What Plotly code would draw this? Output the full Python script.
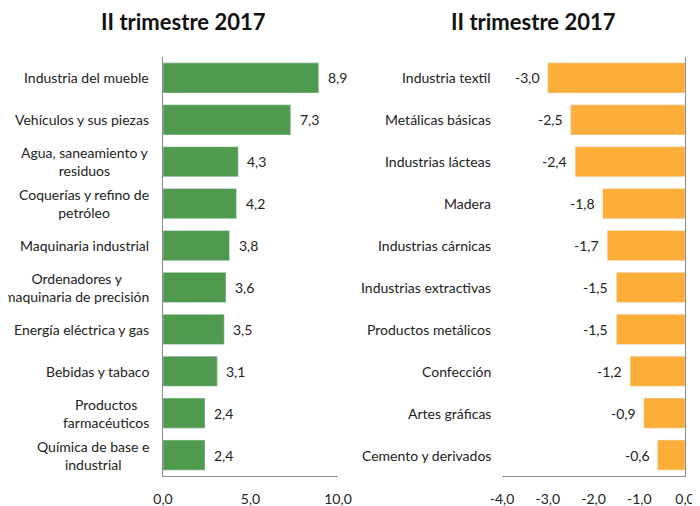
import plotly.graph_objects as go

# left panel: positive rates
cats_pos = ["Industria del mueble", "Vehículos y sus piezas", "Agua, saneamiento y<br>residuos",
            "Coquerías y refino de<br>petróleo", "Maquinaria industrial",
            "Ordenadores y<br>maquinaria de precisión", "Energía eléctrica y gas",
            "Bebidas y tabaco", "Productos<br>farmacéuticos", "Química de base e<br>industrial"]
vals_pos = [8.9, 7.3, 4.3, 4.2, 3.8, 3.6, 3.5, 3.1, 2.4, 2.4]

# right panel: negative rates
cats_neg = ["Industria textil", "Metálicas básicas", "Industrias lácteas", "Madera",
            "Industrias cárnicas", "Industrias extractivas", "Productos metálicos",
            "Confección", "Artes gráficas", "Cemento y derivados"]
vals_neg = [-3.0, -2.5, -2.4, -1.8, -1.7, -1.5, -1.5, -1.2, -0.9, -0.6]

ticks_pos = [0, 5, 10]
ticks_neg = [-4, -3, -2, -1, 0]
title_txt = "II trimestre 2017"

GREEN = "#4F9A4E"
ORANGE = "#FDAE38"
AXIS = "#8C8C8C"
FONT = "Lato"
W, H = 700, 506
OFF = 8  # page body margin shifts the plot by this much


def fmt(v):
    return f"{v:.1f}".replace(".", ",")


def px(x):
    return (x - OFF) / W


def py(y):
    return 1 - (y - OFF) / H


fig = go.Figure()
fig.add_trace(go.Bar(y=cats_pos, x=vals_pos, orientation="h", marker_color=GREEN,
                     xaxis="x", yaxis="y", hoverinfo="skip"))
fig.add_trace(go.Bar(y=cats_neg, x=vals_neg, orientation="h", marker_color=ORANGE,
                     xaxis="x2", yaxis="y2", hoverinfo="skip"))

lab = dict(size=14, color="#222")
ann = []
for c, v in zip(cats_pos, vals_pos):
    ann.append(dict(x=v, y=c, xref="x", yref="y", text=fmt(v), showarrow=False,
                    xanchor="left", xshift=7, font=lab))
    ann.append(dict(x=px(151), y=c, xref="paper", yref="y", text=c, showarrow=False,
                    xanchor="right", align="center", font=lab))
for c, v in zip(cats_neg, vals_neg):
    ann.append(dict(x=v, y=c, xref="x2", yref="y2", text=fmt(v), showarrow=False,
                    xanchor="right", xshift=-6, font=lab))
    ann.append(dict(x=px(493), y=c, xref="paper", yref="y2", text=c, showarrow=False,
                    xanchor="right", align="center", font=lab))
for cx in [183, 533]:
    ann.append(dict(x=px(cx), y=py(22), xref="paper", yref="paper", text="<b>" + title_txt + "</b>",
                    showarrow=False, xanchor="center", yanchor="middle",
                    font=dict(size=22, color="#111")))

ydom = [py(476), py(57)]
fig.update_layout(
    width=W, height=H, margin=dict(l=0, r=0, t=0, b=0, autoexpand=False),
    paper_bgcolor="white", plot_bgcolor="white", showlegend=False,
    font=dict(family=FONT, size=14, color="#222"),
    bargap=0.28, annotations=ann,
    xaxis=dict(domain=[px(163), px(338)], range=[0, 10], tickvals=ticks_pos,
               ticktext=[fmt(t) for t in ticks_pos], showgrid=False, zeroline=False,
               showline=True, linecolor=AXIS, linewidth=1, ticks="", ticklabelstandoff=10),
    yaxis=dict(domain=ydom, autorange="reversed", showticklabels=False, showgrid=False,
               showline=True, linecolor=AXIS, linewidth=1, ticks="", anchor="x"),
    xaxis2=dict(domain=[px(502), px(685)], range=[-4, 0], tickvals=ticks_neg,
                ticktext=[fmt(t) for t in ticks_neg], showgrid=False, zeroline=False,
                showline=True, linecolor=AXIS, linewidth=1, ticks="", anchor="y2",
                ticklabelstandoff=10),
    yaxis2=dict(domain=ydom, autorange="reversed", showticklabels=False, showgrid=False,
                showline=True, linecolor=AXIS, linewidth=1, ticks="", anchor="x2",
                side="right"),
)

fig.write_html("out.html")
